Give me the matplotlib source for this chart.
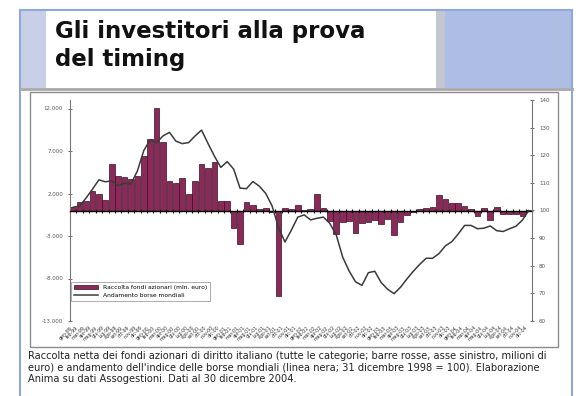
import numpy as np
import matplotlib.pyplot as plt
from matplotlib.patches import Rectangle
from matplotlib.lines import Line2D

# mesi da gennaio 1999 a dicembre 2004
mesi_it = ['gen', 'feb', 'mar', 'apr', 'mag', 'giu', 'lug', 'ago', 'set', 'ott', 'nov', 'dic']
anni = ['99', '00', '01', '02', '03', '04']
etichette = [m + '-' + a for a in anni for m in mesi_it]

# raccolta netta fondi azionari (milioni di euro), asse sinistro
raccolta = [400, 950, 1100, 2300, 1900, 1200, 5500, 4050, 3900, 3700, 4050, 6400,
            8400, 12100, 8100, 3500, 3200, 3850, 2000, 3500, 5500, 5000, 5700, 1100,
            1100, -2000, -3900, 1000, 600, 200, 300, -200, -10100, 300, 200, 700,
            100, 200, 2000, 300, -1200, -2800, -1300, -1200, -2600, -1500, -1400, -1100,
            -1600, -1000, -2900, -1400, -500, -200, 200, 300, 400, 1800, 1300, 900,
            900, 500, 200, -700, 300, -1100, 400, -450, -450, -400, -600, 100]

# indice borse mondiali (31/12/1998 = 100), asse destro
indice = [101.2, 101.6, 104.5, 107.7, 111.1, 110.4, 110.7, 109.0, 109.9, 109.6, 114.3, 121.7,
          125.6, 124.6, 127.0, 128.3, 125.1, 124.2, 124.6, 127.0, 129.1, 124.3, 119.7, 115.6,
          117.7, 115.0, 108.1, 107.9, 110.5, 108.8, 106.2, 101.6, 93.8, 88.6, 92.9, 97.6,
          98.4, 96.6, 97.2, 97.6, 95.3, 91.1, 83.1, 78.1, 74.2, 72.9, 77.5, 78.0,
          73.9, 71.5, 69.9, 72.2, 75.2, 78.0, 80.5, 82.7, 82.7, 84.4, 87.2, 88.7,
          91.5, 94.6, 94.6, 93.4, 93.6, 94.4, 92.7, 92.4, 93.4, 94.3, 96.5, 100.0]

tick_sx = [-13000, -8000, -3000, 2000, 7000, 12000]
tick_dx = [60, 70, 80, 90, 100, 110, 120, 130, 140]

titolo = 'Gli investitori alla prova\ndel timing'
didascalia = ["Raccolta netta dei fondi azionari di diritto italiano (tutte le categorie; barre rosse, asse sinistro, milioni di",
              "euro) e andamento dell'indice delle borse mondiali (linea nera; 31 dicembre 1998 = 100). Elaborazione",
              "Anima su dati Assogestioni. Dati al 30 dicembre 2004."]

W, H = 585, 396
fig = plt.figure(figsize=(W / 100, H / 100), dpi=100)


def fx(px):
    return px / W


def fy(py):
    return 1 - py / H


def rett(x0, y0, x1, y1, **kw):
    fig.patches.append(Rectangle((fx(x0), fy(y1)), fx(x1) - fx(x0), fy(y0) - fy(y1),
                                 transform=fig.transFigure, **kw))


# cornice della slide
rett(20, 10, 46, 88, facecolor='#c9cfe6', edgecolor='none')
rett(46, 10, 436, 88, facecolor='white', edgecolor='none')
rett(436, 10, 445, 88, facecolor='#c4c7d0', edgecolor='none')
rett(445, 10, 572, 88, facecolor='#aebde3', edgecolor='none')
blu = '#8fa8dc'
fig.lines.append(Line2D([fx(20), fx(20)], [fy(10), fy(396)], color=blu, lw=1.5, transform=fig.transFigure))
fig.lines.append(Line2D([fx(572), fx(572)], [fy(10), fy(396)], color=blu, lw=1.5, transform=fig.transFigure))
fig.lines.append(Line2D([fx(20), fx(572)], [fy(10), fy(10)], color=blu, lw=1.5, transform=fig.transFigure))
fig.lines.append(Line2D([fx(20), fx(572)], [fy(89), fy(89)], color='#a8a8a8', lw=2, transform=fig.transFigure))
rett(30, 92, 558, 347, facecolor='none', edgecolor='#8c8c8c', lw=1)

fig.text(fx(55), fy(20), titolo, fontsize=16.5, fontweight='bold', va='top', ha='left',
         linespacing=1.3, color='#111111')

for k, riga in enumerate(didascalia):
    fig.text(fx(28), fy(351 + k * 11.3), riga, fontsize=7.1, va='top', ha='left', color='#222222')

# grafico
ax = fig.add_axes([fx(70), fy(321), fx(532) - fx(70), fy(100) - fy(321)])
x = np.arange(len(raccolta))
ax.bar(x, raccolta, width=0.88, color='#8a2a58', edgecolor='#3e0c26', linewidth=0.5,
       label='Raccolta fondi azionari (mln. euro)', zorder=2)
ax.set_xlim(-0.5, len(raccolta) - 0.5)
ax.set_ylim(-13000, 13000)
ax.set_yticks(tick_sx)
ax.set_yticklabels([f'{v:,}'.replace(',', '.') for v in tick_sx])
ax.tick_params(axis='y', labelsize=4, colors='#555555', direction='inout', length=3, width=0.6)

ax.spines['top'].set_visible(False)
ax.spines['right'].set_visible(False)
ax.spines['left'].set_color('#777777')
ax.spines['bottom'].set_position(('data', 0))
ax.spines['bottom'].set_color('black')
ax.spines['bottom'].set_linewidth(1)
ax.set_xticks(np.arange(len(raccolta) + 1) - 0.5)
ax.tick_params(axis='x', labelbottom=False, direction='inout', length=3, width=0.8, colors='black')

sec = ax.secondary_xaxis('bottom')
sec.set_xticks(x)
sec.set_xticklabels(etichette, rotation=45, ha='right', fontsize=3.4, color='#333333')
sec.tick_params(length=0, pad=3)
sec.spines['bottom'].set_visible(False)

ax2 = ax.twinx()
ax2.plot(x, indice, color='#3a3a3a', lw=1.1, label='Andamento borse mondiali', zorder=3)
ax2.set_ylim(60, 140)
ax2.set_yticks(tick_dx)
ax2.tick_params(axis='y', labelsize=4, colors='#555555', direction='inout', length=3, width=0.6)
for s in ['top', 'left', 'bottom']:
    ax2.spines[s].set_visible(False)
ax2.spines['right'].set_color('#777777')

h1, l1 = ax.get_legend_handles_labels()
h2, l2 = ax2.get_legend_handles_labels()
leg = ax2.legend(h1 + h2, l1 + l2, loc='lower left', bbox_to_anchor=(-0.004, 0.075),
                 fontsize=4.3, fancybox=False, edgecolor='#888888', handlelength=4,
                 borderpad=0.5, labelspacing=0.6)
leg.get_frame().set_linewidth(0.6)

fig.savefig('out.png', dpi=100)
